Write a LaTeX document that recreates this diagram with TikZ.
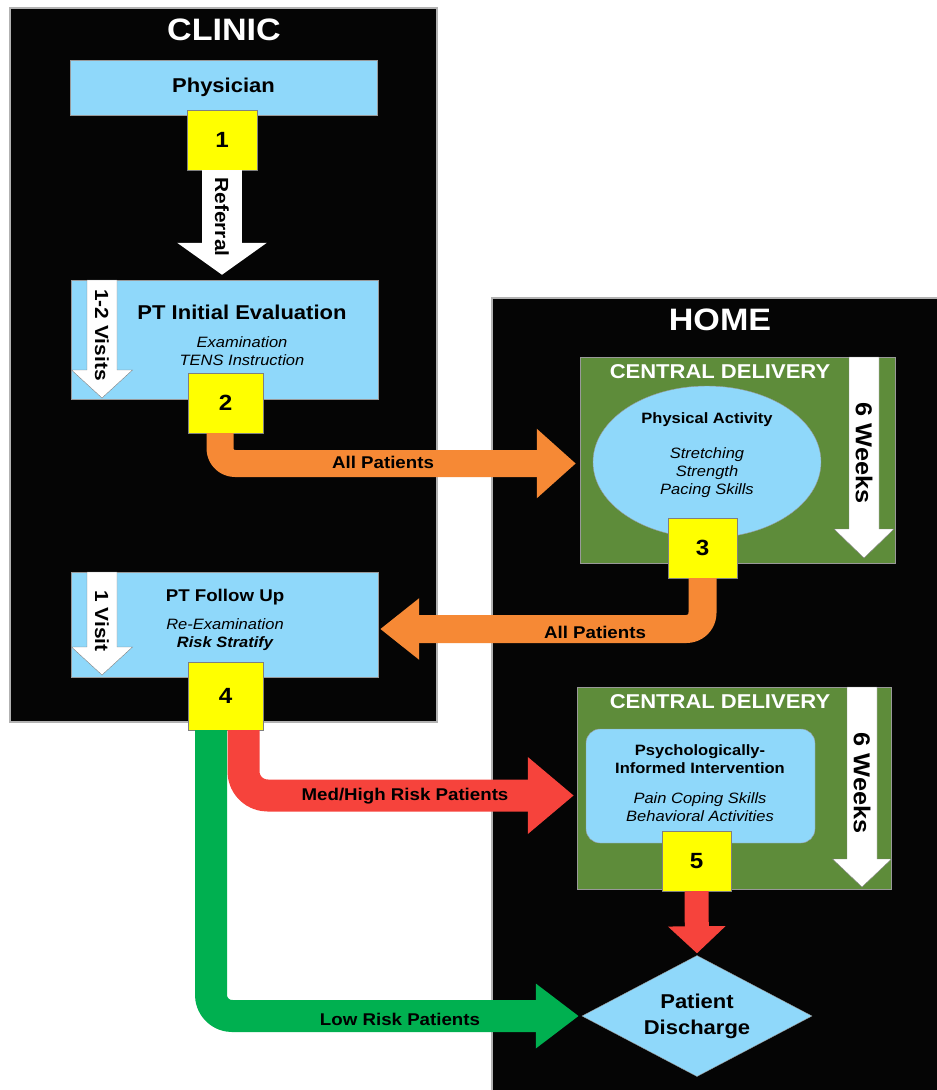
\documentclass[tikz,border=0pt]{standalone}
\usepackage{fontspec}
\setmainfont{Liberation Sans}[FakeStretch=1.1]
\usetikzlibrary{positioning,shapes.geometric,arrows.meta}

\definecolor{zoneblack}{RGB}{5,5,5}
\definecolor{boxblue}{RGB}{143,216,250}
\definecolor{numyellow}{RGB}{255,255,0}
\definecolor{cdgreen}{RGB}{94,140,58}
\definecolor{arrorange}{RGB}{246,137,53}
\definecolor{arrred}{RGB}{246,67,60}
\definecolor{arrgreen}{RGB}{0,176,80}

\tikzset{
  zone/.style={draw=gray!60, line width=1.5pt, fill=zoneblack, inner sep=0pt},
  zonetitle/.style={text=white, font=\bfseries\fontsize{31}{34}\selectfont},
  cdbox/.style={draw=black!40, fill=cdgreen, inner sep=0pt},
  cdtitle/.style={text=white, font=\bfseries\fontsize{20}{22}\selectfont},
  bluebox/.style={draw=black!40, fill=boxblue, inner sep=0pt},
  numbox/.style={draw=black!50, fill=numyellow, inner sep=0pt, font=\bfseries\fontsize{22}{24}\selectfont},
  headtext/.style={font=\bfseries\fontsize{#1}{#1}\selectfont, inner sep=0pt},
  itemtext/.style={align=center, font=\itshape\fontsize{15}{18}\selectfont, inner sep=0pt},
  sidelabel/.style={rotate=-90, font=\bfseries\fontsize{19}{20}\selectfont, inner sep=0pt},
  arrowtext/.style={font=\bfseries\fontsize{17}{18}\selectfont, inner sep=0pt},
  bandarrow/.style={line cap=butt, line join=round}
}

% white arrow inside a box: x, top, head start, tip, half shaft, half head
\newcommand{\visitarrow}[6]{%
  \filldraw[draw=black!50, fill=white] (#1-#5,#2) -- (#1-#5,#3) -- (#1-#6,#3) -- (#1,#4)
    -- (#1+#6,#3) -- (#1+#5,#3) -- (#1+#5,#2) -- cycle;}

\begin{document}
\begin{tikzpicture}[x=1pt, y=-1pt]
\useasboundingbox (0,0) rectangle (937,1090);
\fill[white] (0,0) rectangle (937,1090);

% zones
\node[zone, minimum width=427pt, minimum height=714pt] (clinic) at (223.5,365) {};
\node[zone, minimum width=453pt, minimum height=802pt] (home) at (718.5,699) {};
\node[zonetitle] (clinicT) at (224,30) {CLINIC};
\node[zonetitle] (homeT) at (720,320) {HOME};

% central delivery
\node[cdbox, minimum width=315pt, minimum height=206pt] (cd1) at (737.5,460) {};
\node[cdtitle] (cd1T) at (720,372) {CENTRAL DELIVERY};
\visitarrow{864}{357}{529}{558}{15}{30}
\node[sidelabel, font=\bfseries\fontsize{23}{24}\selectfont] (wk1) at (864,453) {6 Weeks};

\node[cdbox, minimum width=314pt, minimum height=202pt] (cd2) at (734,788) {};
\node[cdtitle] (cd2T) at (720,702) {CENTRAL DELIVERY};
\visitarrow{862}{687}{859}{887}{15}{29.5}
\node[sidelabel, font=\bfseries\fontsize{23}{24}\selectfont] (wk2) at (862,783) {6 Weeks};

% clinic boxes
\node[bluebox, minimum width=307pt, minimum height=55pt, font=\bfseries\fontsize{20}{24}\selectfont] (phys) at (223.5,87.5) {Physician};

\node[bluebox, minimum width=307pt, minimum height=119pt] (init) at (224.5,339.5) {};
\visitarrow{102}{280}{370}{398}{15}{30.5}
\node[sidelabel] (initV) at (102,335) {1-2 Visits};
\node[headtext=20] (initT) at (242,312) {PT Initial Evaluation};
\node[itemtext] (initI) at (242,351) {Examination\\TENS Instruction};

\node[bluebox, minimum width=307pt, minimum height=105pt] (fu) at (224.5,624.5) {};
\visitarrow{102}{572}{647}{675}{15}{30.5}
\node[sidelabel] (fuV) at (102,621) {1 Visit};
\node[headtext=17] (fuT) at (225,597) {PT Follow Up};
\node[itemtext] (fuI) at (225,635) {Re-Examination\\\textbf{Risk Stratify}};

% home boxes
\node[bluebox, ellipse, minimum width=228pt, minimum height=152pt] (pa) at (707,462) {};
\node[headtext=15] (paT) at (707,420) {Physical Activity};
\node[itemtext] (paI) at (707,473) {Stretching\\Strength\\Pacing Skills};

\node[bluebox, rounded corners=14pt, minimum width=229pt, minimum height=114pt] (pii) at (700.5,786) {};
\node[headtext=15, align=center, font=\bfseries\fontsize{15}{18}\selectfont] (piiT) at (700,759) {Psychologically-\\Informed Intervention};
\node[itemtext] (piiI) at (700,807.5) {Pain Coping Skills\\Behavioral Activities};

\node[bluebox, diamond, aspect=1.9, minimum width=230pt, minimum height=121pt, align=center, font=\bfseries\fontsize{20}{26}\selectfont] (dis) at (697,1016) {Patient\\Discharge};

% steps
\node[numbox, minimum width=70pt, minimum height=60pt] (num1) at (222,140) {1};
\node[numbox, minimum width=75pt, minimum height=60pt] (num2) at (225.5,403) {2};
\node[numbox, minimum width=69pt, minimum height=60pt] (num3) at (702.5,548) {3};
\node[numbox, minimum width=75pt, minimum height=68pt] (num4) at (225.5,696) {4};
\node[numbox, minimum width=69pt, minimum height=60pt] (num5) at (696.5,861) {5};

% flow
\draw[bandarrow, white, line width=40pt, -{Triangle[length=32pt,width=88pt]}, shorten >=5pt]
  (num1.south) -- (num1.south |- init.north);
\node[sidelabel] (ref) at (222,217) {Referral};

\draw[bandarrow, arrorange, line width=27pt, rounded corners=15pt, -{Triangle[length=39pt,width=67pt]}, shorten >=17pt]
  ([xshift=-5.5pt]num2.south) |- ([yshift=-1.5pt]pa.west);
\node[arrowtext] (allA) at (383,462) {All Patients};

\draw[bandarrow, arrorange, line width=28pt, rounded corners=16pt, -{Triangle[length=39pt,width=59pt]}, shorten >=2pt]
  (num3.south) |- ([yshift=-4.5pt]fu.east);
\node[arrowtext] (allB) at (595,632) {All Patients};

\draw[bandarrow, arrgreen, line width=32pt, rounded corners=21pt, -{Triangle[length=43pt,width=62pt]}, shorten >=3pt]
  ([xshift=-14.5pt]num4.south) |- (dis.west);
\node[arrowtext] (low) at (400,1019) {Low Risk Patients};

\draw[bandarrow, arrred, line width=32pt, rounded corners=24pt, -{Triangle[length=46pt,width=74pt]}, shorten >=12pt]
  ([xshift=18pt]num4.south) |- ([yshift=-9.5pt]pii.west);
\node[arrowtext] (med) at (405,796) {Med/High Risk Patients};

\draw[bandarrow, arrred, line width=24pt, -{Triangle[length=27pt,width=56pt]}, shorten >=2pt]
  (num5.south) -- (dis.north);
\end{tikzpicture}
\end{document}
